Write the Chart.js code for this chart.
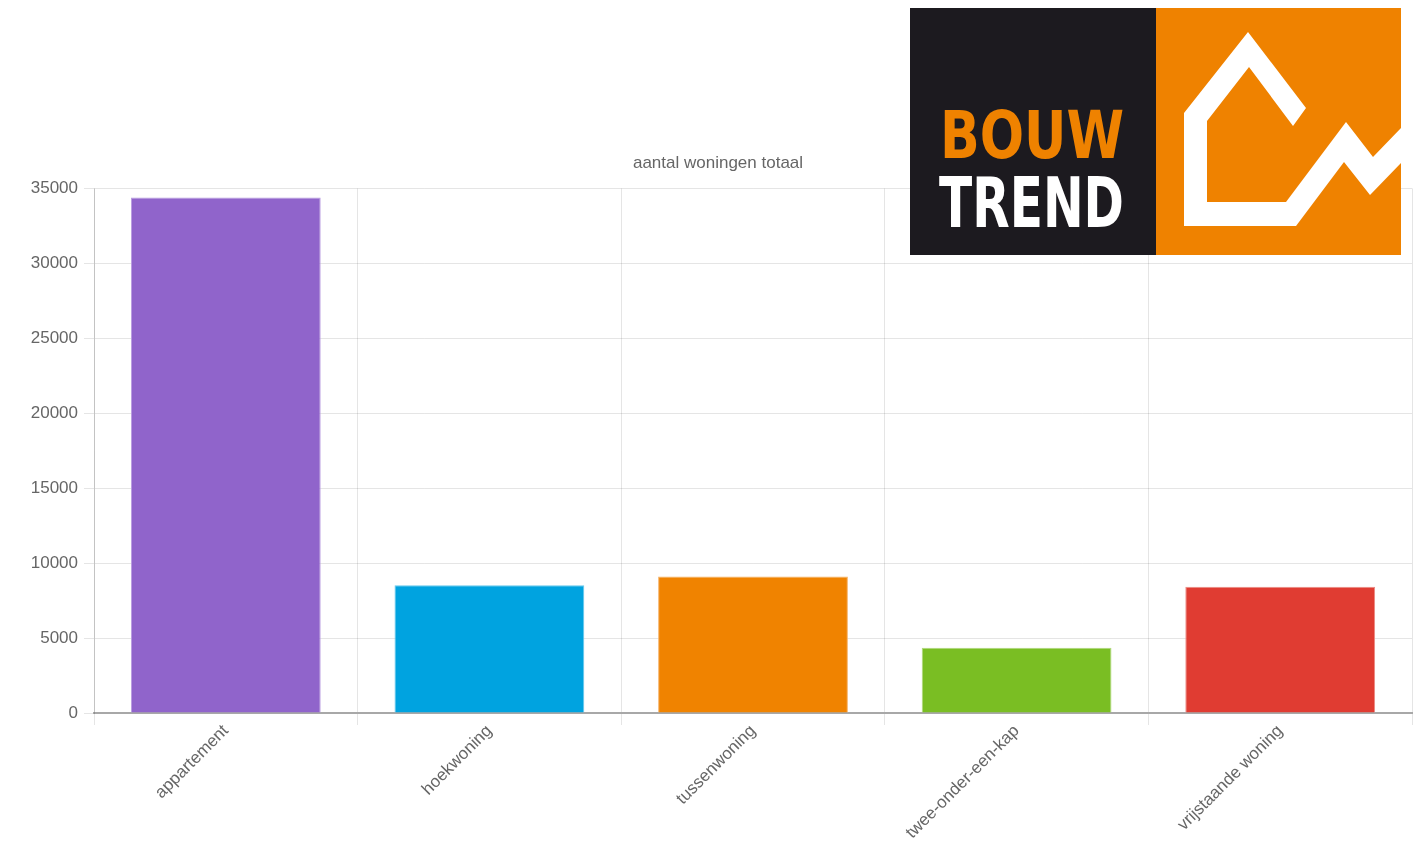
<!DOCTYPE html>
<html>
<head>
<meta charset="utf-8">
<script src="https://cdn.jsdelivr.net/npm/chart.js@4"></script>
<style>
  html, body { margin: 0; padding: 0; background: #fff; }
  #wrap { position: relative; width: 1420px; height: 843px; }
  #c { position: absolute; left: 0; top: 0; }
  #logo { position: absolute; left: 0; top: 0; pointer-events: none; }
</style>
</head>
<body>
<div id="wrap">
  <canvas id="c" width="1420" height="843"></canvas>
  <svg id="logo" width="1420" height="843" viewBox="0 0 1420 843" xmlns="http://www.w3.org/2000/svg">
    <rect x="910" y="8" width="246" height="247" fill="#1c1a1f"/>
    <rect x="1156" y="8" width="245" height="247" fill="#ef8200"/>
    <text x="940" y="158" font-family="'DejaVu Sans Condensed','DejaVu Sans',sans-serif" font-weight="bold" font-size="66" fill="#ef8200" textLength="184" lengthAdjust="spacingAndGlyphs">BOUW</text>
    <text x="939" y="227" font-family="'DejaVu Sans Condensed','DejaVu Sans',sans-serif" font-weight="bold" font-size="70" fill="#ffffff" textLength="185" lengthAdjust="spacingAndGlyphs">TREND</text>
    <polygon fill="#ffffff" points="1184,226 1184,113 1248,32 1306,108 1293,126 1249,67 1207,121 1207,202 1286,202 1346,122 1373,157 1401,128 1401,163 1370,195 1344,162 1296,226"/>
  </svg>
</div>
<script>
const categories = ["appartement", "hoekwoning", "tussenwoning", "twee-onder-een-kap", "vrijstaande woning"];
const aantalWoningen = [34400, 8530, 9100, 4350, 8420];
const barColors = ["#9064cb", "#00a3e0", "#f08300", "#7abe23", "#e03c32"];
const barBorders = ["#b89be0", "#66c8ec", "#f6b266", "#afd87b", "#ec8a84"];
const titleText = "aantal woningen totaal";
const yTicks = [0, 5000, 10000, 15000, 20000, 25000, 30000, 35000];

Chart.defaults.font.family = "'Liberation Sans', Arial, sans-serif";
Chart.defaults.font.size = 17;
Chart.defaults.color = "#666";

const shiftTitle = {
  id: "shiftTitle",
  afterLayout(chart) {
    if (chart.titleBlock) { chart.titleBlock.left += 24; }
  }
};

new Chart(document.getElementById("c"), {
  type: "bar",
  data: {
    labels: categories,
    datasets: [{
      label: titleText,
      data: aantalWoningen,
      backgroundColor: barColors,
      borderColor: barBorders,
      borderWidth: 1
    }]
  },
  plugins: [shiftTitle],
  options: {
    responsive: false,
    animation: false,
    layout: { padding: { top: 143, right: 8, left: 0, bottom: 0 } },
    plugins: {
      legend: { display: false },
      tooltip: { enabled: false },
      title: {
        display: true,
        text: titleText,
        color: "#666",
        font: { size: 17, weight: "normal" },
        padding: { top: 10, bottom: 15 }
      }
    },
    scales: {
      x: {
        grid: { color: "rgba(0,0,0,0.1)", tickLength: 12, offset: true },
        border: { color: "#a8a8a8", width: 2 },
        ticks: { minRotation: 45, maxRotation: 45, padding: -4, color: "#666" },
        afterFit: (s) => { s.height = 130; }
      },
      y: {
        min: yTicks[0],
        max: yTicks[yTicks.length - 1],
        afterBuildTicks: (s) => { s.ticks = yTicks.map(v => ({ value: v })); },
        grid: { color: "rgba(0,0,0,0.1)", tickLength: 10 },
        border: { color: "rgba(0,0,0,0.15)" },
        ticks: { padding: 6, color: "#666", callback: (v) => String(v) },
        afterFit: (s) => { s.width = 94; }
      }
    }
  }
});
</script>
</body>
</html>
